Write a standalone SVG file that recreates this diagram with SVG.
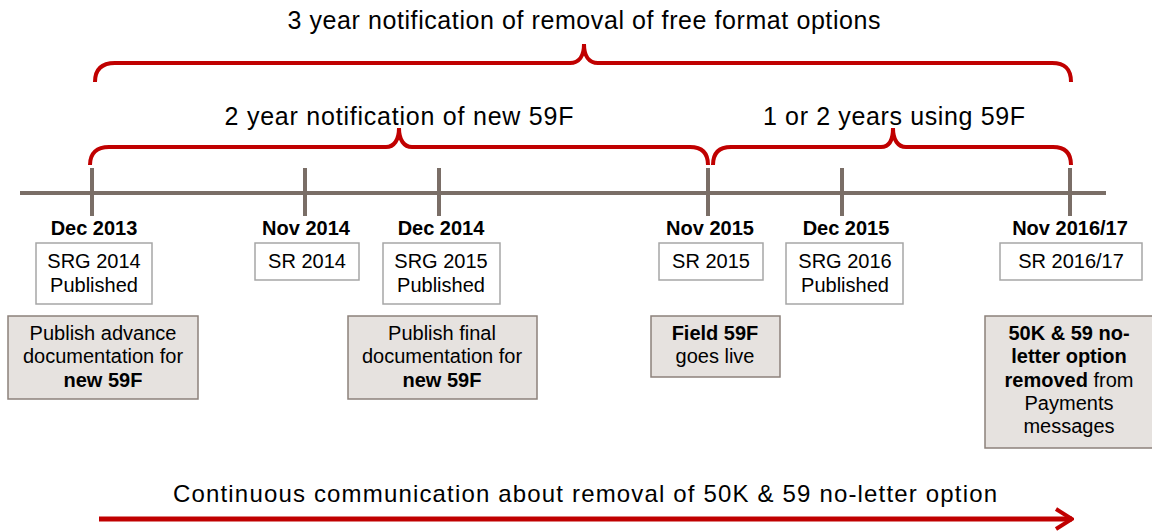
<svg xmlns="http://www.w3.org/2000/svg" width="1152" height="531" viewBox="0 0 1152 531">
<defs>
<style>
text{font-family:"Liberation Sans",Arial,sans-serif;fill:#000;text-anchor:middle}
.hdr{font-size:25px}
.date{font-size:20px;font-weight:bold}
.bx{font-size:20px}
.b{font-weight:bold}
.brace{fill:none;stroke:#c00000;stroke-width:4;stroke-linecap:butt}
.axis{stroke:#7a6e67;stroke-width:4}
.wbox{fill:#fff;stroke:#a6a6a6;stroke-width:1.5}
.gbox{fill:#e6e2df;stroke:#8c817b;stroke-width:1.5}
</style>
<marker id="chev" viewBox="0 0 20 24" refX="18" refY="12" markerWidth="20" markerHeight="24" markerUnits="userSpaceOnUse" orient="auto">
<path d="M2,2 L18,12 L2,22" fill="none" stroke="#c00000" stroke-width="4"/>
</marker>
</defs>
<rect width="1152" height="531" fill="#fff"/>

<g id="labels">
<text class="hdr" x="584" y="29" textLength="593" lengthAdjust="spacing">3 year notification of removal of free format options</text>
<text class="hdr" x="399" y="125" textLength="349" lengthAdjust="spacing">2 year notification of new 59F</text>
<text class="hdr" x="894" y="125" textLength="262" lengthAdjust="spacing">1 or 2 years using 59F</text>
</g>

<g id="connectors">
<path class="brace" d="M95,82 C95,69 102,63 115,63 L570,63 C579,63 584,56 584,44 C584,56 589,63 598,63 L1052,63 C1065,63 1071,69 1071,82"/>
<path class="brace" d="M90,165 C90,153 97,147 109,147 L386,147 C394,147 399,140 399,128 C399,140 404,147 412,147 L690,147 C702,147 708,153 708,165"/>
<path class="brace" d="M713,165 C713,153 719,147 731,147 L881,147 C889,147 893,140 893,128 C893,140 898,147 906,147 L1053,147 C1065,147 1071,153 1071,165"/>
<line class="axis" x1="20" y1="193" x2="1106" y2="193"/>
<line class="axis" x1="92" y1="168" x2="92" y2="216"/>
<line class="axis" x1="305" y1="168" x2="305" y2="216"/>
<line class="axis" x1="439" y1="168" x2="439" y2="216"/>
<line class="axis" x1="708" y1="168" x2="708" y2="216"/>
<line class="axis" x1="842" y1="168" x2="842" y2="216"/>
<line class="axis" x1="1070" y1="168" x2="1070" y2="216"/>
<line x1="99" y1="519" x2="1072" y2="519" stroke="#c00000" stroke-width="5" marker-end="url(#chev)"/>
</g>

<g id="dec2013">
<text class="date" x="94" y="235">Dec 2013</text>
<rect class="wbox" x="36" y="243" width="116" height="61"/>
<text class="bx" x="94" y="268">SRG 2014</text>
<text class="bx" x="94" y="292">Published</text>
<rect class="gbox" x="8" y="316" width="190" height="83"/>
<text class="bx" x="103" y="340">Publish advance</text>
<text class="bx" x="103" y="363">documentation for</text>
<text class="bx b" x="103" y="387">new 59F</text>
</g>

<g id="nov2014">
<text class="date" x="306" y="235">Nov 2014</text>
<rect class="wbox" x="255" y="243" width="104" height="37"/>
<text class="bx" x="307" y="268">SR 2014</text>
</g>

<g id="dec2014">
<text class="date" x="441" y="235">Dec 2014</text>
<rect class="wbox" x="383" y="243" width="117" height="61"/>
<text class="bx" x="441" y="268">SRG 2015</text>
<text class="bx" x="441" y="292">Published</text>
<rect class="gbox" x="348" y="316" width="189" height="83"/>
<text class="bx" x="442" y="340">Publish final</text>
<text class="bx" x="442" y="363">documentation for</text>
<text class="bx b" x="442" y="387">new 59F</text>
</g>

<g id="nov2015">
<text class="date" x="710" y="235">Nov 2015</text>
<rect class="wbox" x="659" y="243" width="104" height="37"/>
<text class="bx" x="711" y="268">SR 2015</text>
<rect class="gbox" x="651" y="316" width="129" height="61"/>
<text class="bx b" x="715" y="340">Field 59F</text>
<text class="bx" x="715" y="363">goes live</text>
</g>

<g id="dec2015">
<text class="date" x="846" y="235">Dec 2015</text>
<rect class="wbox" x="786" y="243" width="117" height="61"/>
<text class="bx" x="845" y="268">SRG 2016</text>
<text class="bx" x="845" y="292">Published</text>
</g>

<g id="nov2016">
<text class="date" x="1070" y="235">Nov 2016/17</text>
<rect class="wbox" x="1000" y="243" width="142" height="37"/>
<text class="bx" x="1071" y="268">SR 2016/17</text>
<rect class="gbox" x="985" y="316" width="175" height="132"/>
<text class="bx b" x="1069" y="340">50K &amp; 59 no-</text>
<text class="bx b" x="1069" y="363">letter option</text>
<text class="bx" x="1069" y="387"><tspan class="b">removed</tspan> from</text>
<text class="bx" x="1069" y="410">Payments</text>
<text class="bx" x="1069" y="433">messages</text>
</g>

<g id="footer">
<text class="hdr" x="585" y="502" font-size="24" textLength="824" lengthAdjust="spacing" style="font-size:24px">Continuous communication about removal of 50K &amp; 59 no-letter option</text>
</g>
</svg>
